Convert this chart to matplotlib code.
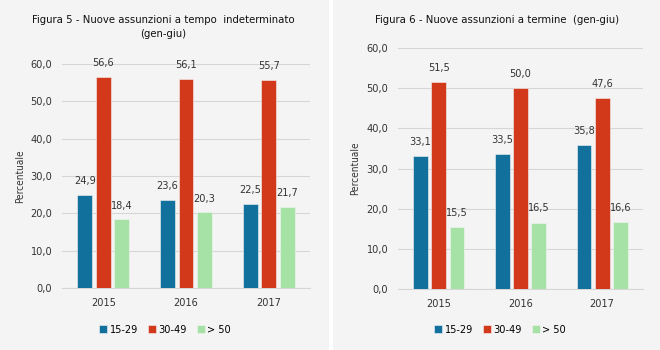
import matplotlib
matplotlib.use("Agg")
import matplotlib.pyplot as plt
from matplotlib.patches import Rectangle
from matplotlib import font_manager as fm
import numpy as np

years = ["2015", "2016", "2017"]
series_names = ["15-29", "30-49", "> 50"]
indet_1529 = [24.9, 23.6, 22.5]
indet_3049 = [56.6, 56.1, 55.7]
indet_50 = [18.4, 20.3, 21.7]
term_1529 = [33.1, 33.5, 35.8]
term_3049 = [51.5, 50.0, 47.6]
term_50 = [15.5, 16.5, 16.6]
yticks = [0, 10, 20, 30, 40, 50, 60]
title5 = "Figura 5 - Nuove assunzioni a tempo  indeterminato\n(gen-giu)"
title6 = "Figura 6 - Nuove assunzioni a termine  (gen-giu)"

colors = ["#12709C", "#D2381A", "#A6E2A6"]

# look for a narrow/condensed sans font if installed
narrow = None
for f in fm.fontManager.ttflist:
    fn = f.fname.lower()
    if ("narrow" in fn or "condensed" in fn) and "bold" not in fn and "italic" not in fn \
            and "oblique" not in fn and "mono" not in fn and "serif" not in fn.replace("sans", ""):
        narrow = f.fname
        break
plt.rcParams["font.family"] = ["Liberation Sans", "DejaVu Sans"]


def fp(size):
    if narrow:
        return fm.FontProperties(fname=narrow, size=size)
    return fm.FontProperties(family=["Liberation Sans", "DejaVu Sans"], size=size)


scale = 1.0 if narrow else 0.88
tick_size = 7.8 * scale

fig = plt.figure(figsize=(6.6, 3.5), dpi=100)
fig.patch.set_facecolor("white")
fig.patches.append(Rectangle((0, 0), 329 / 660, 1, transform=fig.transFigure,
                             facecolor="#F4F4F4", edgecolor="none", zorder=-10))
fig.patches.append(Rectangle((333 / 660, 0), 327 / 660, 1, transform=fig.transFigure,
                             facecolor="#F4F4F4", edgecolor="none", zorder=-10))


def fmt(v):
    return f"{v:.1f}".replace(".", ",")


def draw(ax, data, ylabel_x):
    ax.set_facecolor("none")
    x = np.arange(len(years))
    w = 0.18
    step = 0.224
    handles = []
    for i, (vals, c) in enumerate(zip(data, colors)):
        pos = x + (i - 1) * step
        bars = ax.bar(pos, vals, width=w, color=c, label=series_names[i], zorder=3,
                      edgecolor="#F4F4F4", linewidth=0.4)
        handles.append(bars)
        for b, v in zip(bars, vals):
            ax.text(b.get_x() + b.get_width() / 2, v + 2.3, fmt(v), ha="center",
                    va="bottom", fontproperties=fp(tick_size), color="#333333",
                    clip_on=False)
    ax.set_ylim(0, 60)
    ax.set_xlim(-0.5, 2.5)
    ax.set_yticks(yticks)
    ax.set_yticklabels([fmt(t) for t in yticks], fontproperties=fp(tick_size),
                       color="#333333")
    ax.set_xticks(x)
    ax.set_xticklabels(years, fontproperties=fp(tick_size), color="#333333")
    ax.tick_params(length=0, pad=7)
    ax.tick_params(axis="y", pad=7)
    ax.grid(axis="y", color="#D6D6D6", linewidth=0.8, zorder=0)
    for s in ["top", "right", "left"]:
        ax.spines[s].set_visible(False)
    ax.spines["bottom"].set_color("#D6D6D6")
    ax.set_ylabel("Percentuale", fontproperties=fp(7.2 * scale), color="#333333")
    ax.yaxis.set_label_coords(ylabel_x, 0.5)
    return handles


ax1 = fig.add_axes([62 / 660, 1 - 288 / 350, 248 / 660, 224 / 350])
h1 = draw(ax1, [indet_1529, indet_3049, indet_50], -0.15)
ax2 = fig.add_axes([398 / 660, 1 - 289 / 350, 245 / 660, 241 / 350])
h2 = draw(ax2, [term_1529, term_3049, term_50], -0.155)

fig.text(163 / 660, 1 - 27 / 350, title5, ha="center", va="center",
         fontproperties=fp(8.1 * scale), color="#111111", linespacing=1.45)
fig.text(497 / 660, 1 - 20 / 350, title6, ha="center", va="center",
         fontproperties=fp(8.1 * scale), color="#111111")

for h, cx in [(h1, 165), (h2, 500)]:
    fig.legend(h, series_names, loc="center", bbox_to_anchor=(cx / 660, 1 - 330 / 350),
               ncol=3, frameon=False, prop=fp(tick_size), handlelength=0.75,
               handleheight=0.75, handletextpad=0.25, columnspacing=0.9)

fig.savefig("out.png", dpi=100, facecolor="white")
